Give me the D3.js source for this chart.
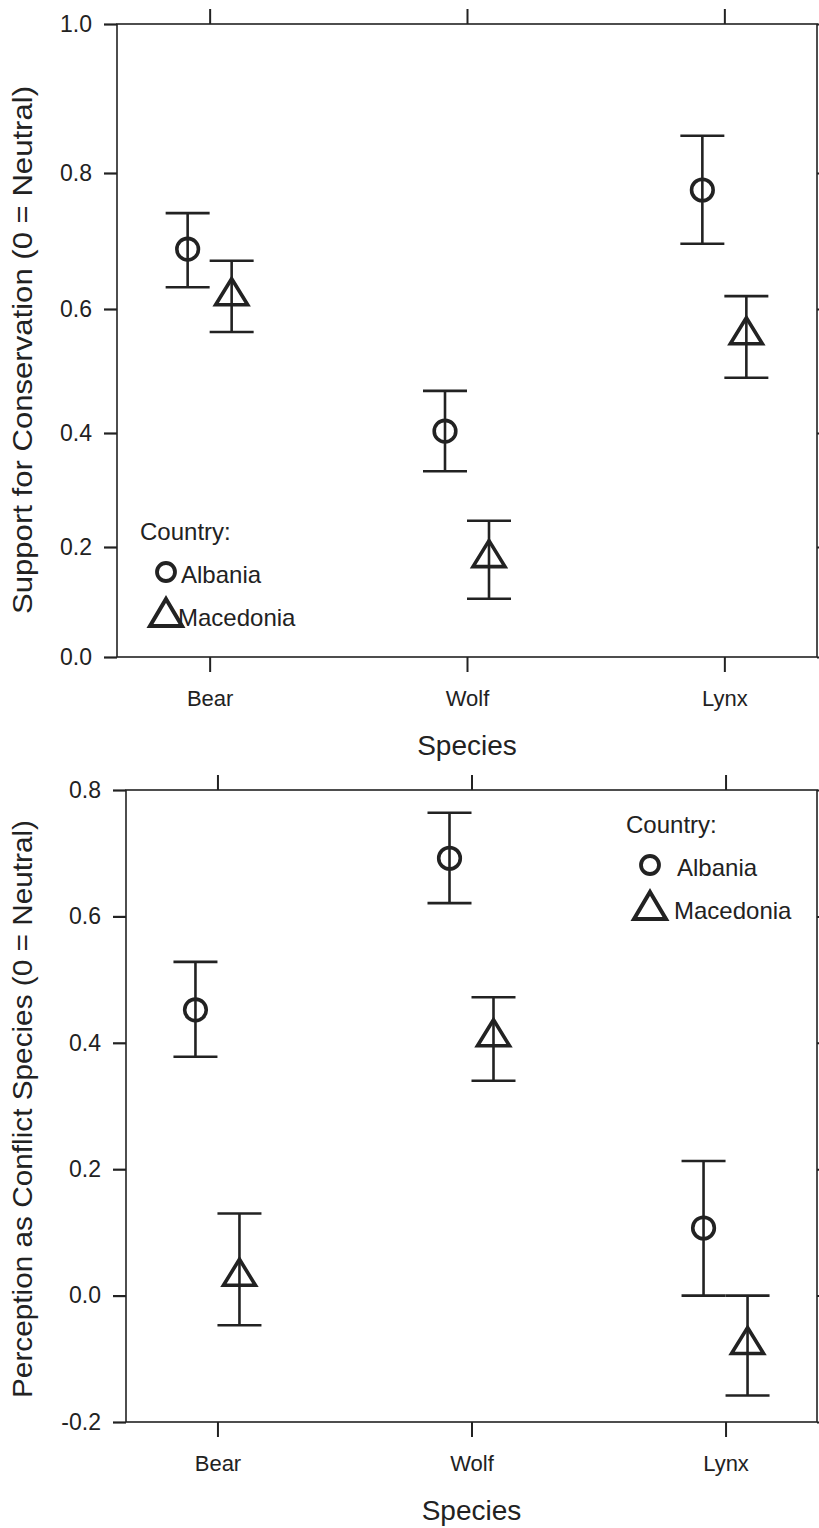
<!DOCTYPE html>
<html>
<head>
<meta charset="utf-8">
<script src="https://cdn.jsdelivr.net/npm/d3@7"></script>
<style>
  html, body { margin: 0; padding: 0; background: #fff; }
  svg { display: block; }
  text { font-family: "Liberation Sans", Arial, sans-serif; fill: #222; }
</style>
</head>
<body>
<svg id="chart" width="819" height="1528"></svg>
<script>
// Categories and groups
const species = ["Bear", "Wolf", "Lynx"];
const countries = ["Albania", "Macedonia"];

// Support for conservation: means and error-bar limits
const supportTicks = [0.0, 0.2, 0.4, 0.6, 0.8, 1.0];
const supportAlbania = [0.688, 0.403, 0.775];
const supportAlbaniaLow = [0.632, 0.333, 0.696];
const supportAlbaniaHigh = [0.741, 0.468, 0.850];
const supportMacedonia = [0.619, 0.180, 0.558];
const supportMacedoniaLow = [0.563, 0.106, 0.489];
const supportMacedoniaHigh = [0.671, 0.246, 0.619];

// Perception as conflict species: means and error-bar limits
const conflictTicks = [-0.2, 0.0, 0.2, 0.4, 0.6, 0.8];
const conflictAlbania = [0.452, 0.692, 0.107];
const conflictAlbaniaLow = [0.378, 0.621, 0.000];
const conflictAlbaniaHigh = [0.528, 0.764, 0.213];
const conflictMacedonia = [0.030, 0.409, -0.078];
const conflictMacedoniaLow = [-0.047, 0.340, -0.158];
const conflictMacedoniaHigh = [0.130, 0.472, 0.000];

const ink = "#222";
const font = "Liberation Sans, Arial, sans-serif";
const svg = d3.select("#chart");

function rows(means, lows, highs, country) {
  return species.map((s, i) => ({ species: s, country, mean: means[i], low: lows[i], high: highs[i] }));
}

// Open triangle centred on its centroid
function trianglePath(w, h) {
  return `M0,${-2 * h / 3}L${w / 2},${h / 3}L${-w / 2},${h / 3}Z`;
}

// One decimal, ASCII hyphen for negatives
const tickFmt = v => d3.format(".1f")(v).replace("\u2212", "-");

function drawPanel(cfg) {
  const g = svg.append("g");
  const { left, right, top, bottom } = cfg;

  const x = d3.scalePoint().domain(species).range([left, right]).padding(0.36);
  const dodge = d3.scalePoint().domain(countries).range([-22, 22]);
  const y = cfg.yScale;

  // Frame
  g.append("rect")
    .attr("x", left).attr("y", top)
    .attr("width", right - left).attr("height", bottom - top)
    .attr("fill", "none").attr("stroke", ink).attr("stroke-width", 1.6);

  // Left axis with labels
  const yAxis = d3.axisLeft(y).tickValues(cfg.ticks).tickSize(13).tickPadding(12)
    .tickFormat(tickFmt);
  const ya = g.append("g").attr("transform", `translate(${left},0)`).call(yAxis);
  ya.select(".domain").remove();
  ya.selectAll("line").attr("stroke", ink).attr("stroke-width", 2.2);
  ya.selectAll("text").attr("font-size", 23).style("font-family", font).attr("fill", ink);

  // Right axis ticks (no labels)
  const yr = g.append("g").attr("transform", `translate(${right},0)`)
    .call(d3.axisRight(y).tickValues(cfg.ticks).tickSize(12).tickFormat(""));
  yr.select(".domain").remove();
  yr.selectAll("line").attr("stroke", ink).attr("stroke-width", 2);

  // Bottom axis with species labels
  const xb = g.append("g").attr("transform", `translate(0,${bottom})`)
    .call(d3.axisBottom(x).tickSize(15).tickPadding(18));
  xb.select(".domain").remove();
  xb.selectAll("line").attr("stroke", ink).attr("stroke-width", 2);
  xb.selectAll("text").attr("font-size", 22).style("font-family", font).attr("fill", ink);

  // Top axis ticks (no labels)
  const xt = g.append("g").attr("transform", `translate(0,${top})`)
    .call(d3.axisTop(x).tickSize(15).tickFormat(""));
  xt.select(".domain").remove();
  xt.selectAll("line").attr("stroke", ink).attr("stroke-width", 2);

  // Axis titles
  g.append("text")
    .attr("transform", `translate(${cfg.yTitleX},${cfg.yTitleY}) rotate(-90)`)
    .attr("text-anchor", "middle").attr("font-size", 28)
    .attr("textLength", cfg.yTitleLength).attr("lengthAdjust", "spacingAndGlyphs")
    .text(cfg.yTitle);
  g.append("text")
    .attr("x", (left + right) / 2).attr("y", bottom + 98)
    .attr("text-anchor", "middle").attr("font-size", 28)
    .text("Species");

  // Error bars and markers
  const data = cfg.data;
  const capHalf = 22;
  const pts = g.append("g").selectAll("g").data(data).join("g")
    .attr("transform", d => `translate(${x(d.species) + dodge(d.country)},0)`);

  pts.append("line")
    .attr("y1", d => y(d.low)).attr("y2", d => y(d.high))
    .attr("stroke", ink).attr("stroke-width", 2.6);
  pts.append("line")
    .attr("x1", -capHalf).attr("x2", capHalf)
    .attr("y1", d => y(d.high)).attr("y2", d => y(d.high))
    .attr("stroke", ink).attr("stroke-width", 2.6);
  pts.append("line")
    .attr("x1", -capHalf).attr("x2", capHalf)
    .attr("y1", d => y(d.low)).attr("y2", d => y(d.low))
    .attr("stroke", ink).attr("stroke-width", 2.6);

  pts.filter(d => d.country === "Albania").append("circle")
    .attr("cy", d => y(d.mean)).attr("r", 10.8)
    .attr("fill", "none").attr("stroke", ink).attr("stroke-width", 3.6);
  pts.filter(d => d.country === "Macedonia").append("path")
    .attr("transform", d => `translate(0,${y(d.mean)})`)
    .attr("d", trianglePath(32, 26))
    .attr("fill", "none").attr("stroke", ink).attr("stroke-width", 3.6)
    .attr("stroke-linejoin", "miter");

  // Legend
  const L = cfg.legend;
  const lg = g.append("g").attr("transform", `translate(${L.x},${L.y})`);
  lg.append("text").attr("x", 0).attr("y", 0).attr("font-size", 24).text("Country:");
  lg.append("circle").attr("cx", L.markX).attr("cy", 32).attr("r", 9)
    .attr("fill", "none").attr("stroke", ink).attr("stroke-width", 3.8);
  lg.append("text").attr("x", L.textX).attr("y", 43).attr("font-size", 24).text(countries[0]);
  lg.append("path").attr("transform", `translate(${L.markX},77)`)
    .attr("d", trianglePath(32, 27))
    .attr("fill", "none").attr("stroke", ink).attr("stroke-width", 4);
  lg.append("text").attr("x", L.textX2).attr("y", 86).attr("font-size", 24).text(countries[1]);
}

// Upper panel: the value axis is drawn with the spacing of its printed ticks
const topPanel = { left: 117, right: 817, top: 24, bottom: 657 };
const supportY = d3.scaleLinear()
  .domain(supportTicks)
  .range([657, 547, 433, 309, 173, 24]);

drawPanel({
  ...topPanel,
  yScale: supportY,
  ticks: supportTicks,
  yTitle: "Support for Conservation (0 = Neutral)",
  yTitleX: 32,
  yTitleY: 350,
  yTitleLength: 528,
  legend: { x: 140, y: 540, markX: 26, textX: 41, textX2: 38 },
  data: [
    ...rows(supportAlbania, supportAlbaniaLow, supportAlbaniaHigh, "Albania"),
    ...rows(supportMacedonia, supportMacedoniaLow, supportMacedoniaHigh, "Macedonia")
  ]
});

// Lower panel
const bottomPanel = { left: 126, right: 817, top: 790, bottom: 1422 };
const conflictY = d3.scaleLinear()
  .domain([-0.2, 0.8])
  .range([bottomPanel.bottom, bottomPanel.top]);

drawPanel({
  ...bottomPanel,
  yScale: conflictY,
  ticks: conflictTicks,
  yTitle: "Perception as Conflict Species (0 = Neutral)",
  yTitleX: 32,
  yTitleY: 1109,
  yTitleLength: 578,
  legend: { x: 626, y: 833, markX: 24, textX: 51, textX2: 48 },
  data: [
    ...rows(conflictAlbania, conflictAlbaniaLow, conflictAlbaniaHigh, "Albania"),
    ...rows(conflictMacedonia, conflictMacedoniaLow, conflictMacedoniaHigh, "Macedonia")
  ]
});
</script>
</body>
</html>
